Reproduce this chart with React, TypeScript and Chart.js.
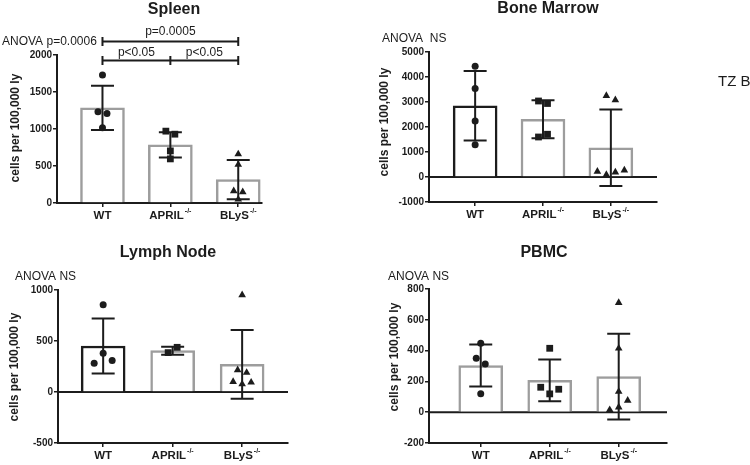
import React, { useEffect, useRef } from 'react';
import { Chart, registerables } from 'chart.js';

Chart.register(...registerables);

// ---------- data ----------
const GROUPS = ['WT', 'APRIL', 'BLyS'];
const GROUP_SUPERSCRIPTS = ['', '-/-', '-/-'];

const SPLEEN_MEANS = [1285, 785, 315];
const SPLEEN_SD = [300, 170, 265];
const SPLEEN_WT = [1730, 1232, 1210, 1016];
const SPLEEN_APRIL = [971, 930, 596, 704];
const SPLEEN_BLYS = [660, 519, 162, 50, 149];

const BM_MEANS = [2850, 2310, 1170];
const BM_SD = [1390, 760, 1530];
const BM_WT = [4430, 3540, 2240, 1290];
const BM_APRIL = [3040, 2940, 1600, 1710];
const BM_BLYS = [3250, 3080, 220, 90, 190, 270];

const LN_MEANS = [451, 405, 271];
const LN_SD = [270, 39, 336];
const LN_WT = [856, 281, 379, 310];
const LN_APRIL = [386, 438];
const LN_BLYS = [951, 216, 190, 101, 78, 95];

const PBMC_MEANS = [303, 207, 231];
const PBMC_SD = [136, 136, 278];
const PBMC_WT = [448, 350, 313, 119];
const PBMC_APRIL = [415, 162, 119, 149];
const PBMC_BLYS = [711, 415, 134, 15, 32, 76];

const Y_TITLE = 'cells per 100,000 ly';

// ---------- styles ----------
const FONT = '"Liberation Sans", Arial, Helvetica, sans-serif';
const INK = '#1c1c1c';
const GRAY = '#9d9d9d';
const POINT_STYLES = ['circle', 'rect', 'triangle'];
const POINT_RADII = [3.5, 4.8, 4.4];
const JITTER_STEP = 9;
const JITTER_THRESHOLD = 7.15;

type Box = { left: number; top: number; width: number; height: number };
type Area = { left: number; right: number; top: number; bottom: number };
type Panel = {
  key: string;
  title: string;
  means: number[];
  sd: number[];
  points: number[][];
  canvas: Box;
  area: Area;
  yMin: number;
  yMax: number;
  yStep: number;
  xMin: number;
  xMax: number;
  barBorders: string[];
  zeroLine: boolean;
  titlePos: [number, number];
  yTitlePos: [number, number];
  anova: { text: string; x: number; y: number };
  extra?: (ctx: CanvasRenderingContext2D, chart: any, ox: number, oy: number) => void;
};

function jitter(vals: number[], pxPerY: number): number[] {
  const idx = vals.map((_, i) => i).sort((a, b) => vals[b] - vals[a]);
  const offs = new Array(vals.length).fill(0);
  let cluster: number[] = [idx[0]];
  const flush = () => {
    const s = [...cluster].sort((a, b) => a - b);
    const n = s.length;
    s.forEach((k, j) => {
      offs[k] = (j - (n - 1) / 2) * JITTER_STEP;
    });
  };
  for (let k = 1; k < idx.length; k++) {
    const prev = idx[k - 1];
    const cur = idx[k];
    if ((vals[prev] - vals[cur]) * pxPerY < JITTER_THRESHOLD) cluster.push(cur);
    else {
      flush();
      cluster = [cur];
    }
  }
  flush();
  return offs;
}

function spleenBrackets(ctx: CanvasRenderingContext2D, chart: any, ox: number, oy: number) {
  const xs = chart.scales.x;
  const p0 = xs.getPixelForValue(0);
  const p1 = xs.getPixelForValue(1);
  const p2 = xs.getPixelForValue(2);
  ctx.save();
  ctx.strokeStyle = INK;
  ctx.lineWidth = 2;
  const yTop = 41.5 - oy;
  const yLow = 60.5 - oy;
  ctx.beginPath();
  ctx.moveTo(p0, yTop);
  ctx.lineTo(p2, yTop);
  ctx.moveTo(p0, yTop - 4.5);
  ctx.lineTo(p0, yTop + 4.5);
  ctx.moveTo(p2, yTop - 4.5);
  ctx.lineTo(p2, yTop + 4.5);
  ctx.moveTo(p0, yLow);
  ctx.lineTo(p2, yLow);
  [p0, p1, p2].forEach((p) => {
    ctx.moveTo(p, yLow - 4.5);
    ctx.lineTo(p, yLow + 4.5);
  });
  ctx.stroke();
  ctx.fillStyle = INK;
  ctx.font = `12px ${FONT}`;
  ctx.textAlign = 'center';
  ctx.textBaseline = 'middle';
  ctx.fillText('p=0.0005', p1, 32 - oy);
  ctx.fillText('p<0.05', (p0 + p1) / 2, 52.5 - oy);
  ctx.fillText('p<0.05', (p1 + p2) / 2, 52.5 - oy);
  ctx.restore();
}

function tzLabel(ctx: CanvasRenderingContext2D, _chart: any, ox: number, oy: number) {
  ctx.save();
  ctx.fillStyle = INK;
  ctx.font = `15px ${FONT}`;
  ctx.textAlign = 'left';
  ctx.textBaseline = 'middle';
  ctx.fillText('TZ B', 718 - ox, 82 - oy);
  ctx.restore();
}

const PANELS: Panel[] = [
  {
    key: 'spleen',
    title: 'Spleen',
    means: SPLEEN_MEANS,
    sd: SPLEEN_SD,
    points: [SPLEEN_WT, SPLEEN_APRIL, SPLEEN_BLYS],
    canvas: { left: 0, top: 0, width: 375, height: 232 },
    area: { left: 57, right: 262, top: 55, bottom: 203 },
    yMin: 0,
    yMax: 2000,
    yStep: 500,
    xMin: -0.67,
    xMax: 2.35,
    barBorders: [GRAY, GRAY, GRAY],
    zeroLine: false,
    titlePos: [174, 10],
    yTitlePos: [16, 128],
    anova: { text: 'ANOVA p=0.0006', x: 2, y: 42 },
    extra: spleenBrackets,
  },
  {
    key: 'bm',
    title: 'Bone Marrow',
    means: BM_MEANS,
    sd: BM_SD,
    points: [BM_WT, BM_APRIL, BM_BLYS],
    canvas: { left: 375, top: 0, width: 375, height: 232 },
    area: { left: 429, right: 657, top: 52, bottom: 202 },
    yMin: -1000,
    yMax: 5000,
    yStep: 1000,
    xMin: -0.68,
    xMax: 2.68,
    barBorders: [INK, GRAY, GRAY],
    zeroLine: true,
    titlePos: [548, 9],
    yTitlePos: [385, 122],
    anova: { text: 'ANOVA  NS', x: 382, y: 39 },
    extra: tzLabel,
  },
  {
    key: 'ln',
    title: 'Lymph Node',
    means: LN_MEANS,
    sd: LN_SD,
    points: [LN_WT, LN_APRIL, LN_BLYS],
    canvas: { left: 0, top: 232, width: 375, height: 233 },
    area: { left: 58, right: 288, top: 290, bottom: 443 },
    yMin: -500,
    yMax: 1000,
    yStep: 500,
    xMin: -0.65,
    xMax: 2.66,
    barBorders: [INK, GRAY, GRAY],
    zeroLine: true,
    titlePos: [168, 253],
    yTitlePos: [15, 367],
    anova: { text: 'ANOVA NS', x: 15, y: 277 },
  },
  {
    key: 'pbmc',
    title: 'PBMC',
    means: PBMC_MEANS,
    sd: PBMC_SD,
    points: [PBMC_WT, PBMC_APRIL, PBMC_BLYS],
    canvas: { left: 375, top: 232, width: 375, height: 233 },
    area: { left: 429, right: 667, top: 289, bottom: 443 },
    yMin: -200,
    yMax: 800,
    yStep: 200,
    xMin: -0.75,
    xMax: 2.7,
    barBorders: [GRAY, GRAY, GRAY],
    zeroLine: true,
    titlePos: [544, 253],
    yTitlePos: [395, 357],
    anova: { text: 'ANOVA NS', x: 388, y: 277 },
  },
];

function PanelChart({ panel }: { panel: Panel }) {
  const ref = useRef<HTMLCanvasElement>(null);

  useEffect(() => {
    if (!ref.current) return;
    const c = panel.canvas;
    const a = panel.area;
    const ox = c.left;
    const oy = c.top;
    const yWidth = a.left - c.left;
    const xHeight = c.top + c.height - a.bottom;
    const padTop = a.top - c.top;
    const padRight = c.left + c.width - a.right;
    const plotH = a.bottom - a.top;
    const plotW = a.right - a.left;
    const pxPerY = plotH / (panel.yMax - panel.yMin);
    const pxPerX = plotW / (panel.xMax - panel.xMin);

    const scatterSets = panel.points.map((vals, g) => {
      const offs = jitter(vals, pxPerY);
      return {
        type: 'scatter' as const,
        data: vals.map((v, i) => ({ x: g + offs[i] / pxPerX, y: v })),
        pointStyle: POINT_STYLES[g],
        pointRadius: POINT_RADII[g],
        pointBorderWidth: 0,
        backgroundColor: INK,
        borderColor: INK,
        order: 1,
      };
    });

    const barSet = {
      type: 'bar' as const,
      data: panel.means.map((m, g) => ({ x: g, y: m })),
      backgroundColor: '#ffffff',
      borderColor: panel.barBorders,
      borderWidth: 2.5,
      barThickness: 44,
      order: 2,
    };

    const drawPlugin = {
      id: 'panelDecor' + panel.key,
      beforeDatasetsDraw(chart: any) {
        if (!panel.zeroLine) return;
        const ctx = chart.ctx;
        const y0 = chart.scales.y.getPixelForValue(0);
        ctx.save();
        ctx.strokeStyle = INK;
        ctx.lineWidth = 2;
        ctx.beginPath();
        ctx.moveTo(chart.chartArea.left, y0);
        ctx.lineTo(chart.chartArea.right, y0);
        ctx.stroke();
        ctx.restore();
      },
      afterDatasetDraw(chart: any, args: any) {
        if (args.index !== 0) return;
        const ctx = chart.ctx;
        const xs = chart.scales.x;
        const ys = chart.scales.y;
        ctx.save();
        ctx.strokeStyle = INK;
        ctx.lineWidth = 2;
        panel.means.forEach((m, g) => {
          const x = xs.getPixelForValue(g);
          const hi = ys.getPixelForValue(m + panel.sd[g]);
          const lo = ys.getPixelForValue(m - panel.sd[g]);
          ctx.beginPath();
          ctx.moveTo(x, hi);
          ctx.lineTo(x, lo);
          ctx.moveTo(x - 11.5, hi);
          ctx.lineTo(x + 11.5, hi);
          ctx.moveTo(x - 11.5, lo);
          ctx.lineTo(x + 11.5, lo);
          ctx.stroke();
        });
        ctx.restore();
      },
      afterDraw(chart: any) {
        const ctx = chart.ctx as CanvasRenderingContext2D;
        const xs = chart.scales.x;
        ctx.save();
        ctx.fillStyle = INK;
        // title
        ctx.font = `bold 16px ${FONT}`;
        ctx.textAlign = 'center';
        ctx.textBaseline = 'middle';
        ctx.fillText(panel.title, panel.titlePos[0] - ox, panel.titlePos[1] - oy);
        // y title
        ctx.save();
        ctx.translate(panel.yTitlePos[0] - ox, panel.yTitlePos[1] - oy);
        ctx.rotate(-Math.PI / 2);
        ctx.font = `bold 12px ${FONT}`;
        ctx.fillText(Y_TITLE, 0, 0);
        ctx.restore();
        // anova
        ctx.font = `12px ${FONT}`;
        ctx.textAlign = 'left';
        ctx.fillText(panel.anova.text, panel.anova.x - ox, panel.anova.y - oy);
        // x labels with superscripts
        const ly = chart.chartArea.bottom + 13;
        GROUPS.forEach((lab, g) => {
          const cx = xs.getPixelForValue(g);
          ctx.font = `bold 11.5px ${FONT}`;
          const w1 = ctx.measureText(lab).width;
          ctx.font = `bold 7px ${FONT}`;
          const sup = GROUP_SUPERSCRIPTS[g];
          const w2 = sup ? ctx.measureText(sup).width + 1 : 0;
          const start = cx - (w1 + w2) / 2;
          ctx.textAlign = 'left';
          ctx.font = `bold 11.5px ${FONT}`;
          ctx.fillText(lab, start, ly);
          if (sup) {
            ctx.font = `bold 7px ${FONT}`;
            ctx.fillText(sup, start + w1 + 1, ly - 4.5);
          }
        });
        ctx.restore();
        if (panel.extra) panel.extra(ctx, chart, ox, oy);
      },
    };

    const chart = new Chart(ref.current, {
      type: 'bar',
      data: { datasets: [barSet as any, ...(scatterSets as any[])] },
      options: {
        animation: false,
        responsive: false,
        devicePixelRatio: 1,
        events: [],
        layout: { padding: { top: padTop, right: padRight, left: 0, bottom: 0 } },
        plugins: { legend: { display: false }, tooltip: { enabled: false }, title: { display: false } },
        scales: {
          x: {
            type: 'linear',
            min: panel.xMin,
            max: panel.xMax,
            offset: false,
            afterBuildTicks: (s: any) => {
              s.ticks = GROUPS.map((_, i) => ({ value: i }));
            },
            afterFit: (s: any) => {
              s.height = xHeight;
            },
            ticks: { display: false },
            grid: {
              offset: false,
              drawOnChartArea: false,
              drawTicks: true,
              tickLength: 4,
              color: INK,
              lineWidth: 1.5,
            },
            border: { display: true, color: INK, width: 2 },
          },
          y: {
            type: 'linear',
            min: panel.yMin,
            max: panel.yMax,
            afterFit: (s: any) => {
              s.width = yWidth;
            },
            ticks: {
              stepSize: panel.yStep,
              color: INK,
              padding: 1,
              font: { family: FONT, size: 10, weight: 'bold' },
              callback: (v: any) => String(v),
            },
            grid: {
              drawOnChartArea: false,
              drawTicks: true,
              tickLength: 4,
              color: INK,
              lineWidth: 1.5,
            },
            border: { display: true, color: INK, width: 2 },
          },
        },
      } as any,
      plugins: [drawPlugin],
    });
    return () => chart.destroy();
  }, [panel]);

  const c = panel.canvas;
  return (
    <canvas
      ref={ref}
      width={c.width}
      height={c.height}
      style={{ position: 'absolute', left: c.left, top: c.top, width: c.width, height: c.height }}
    />
  );
}

export default function App() {
  return (
    <div
      style={{
        position: 'fixed',
        left: 0,
        top: 0,
        width: 750,
        height: 465,
        background: '#ffffff',
        overflow: 'hidden',
      }}
    >
      {PANELS.map((p) => (
        <PanelChart key={p.key} panel={p} />
      ))}
    </div>
  );
}
